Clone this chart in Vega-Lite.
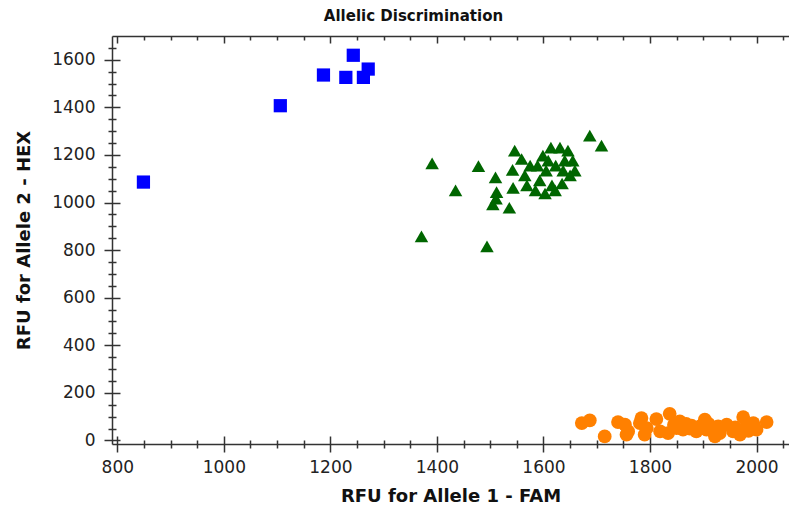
{
  "$schema": "https://vega.github.io/schema/vega-lite/v6.json",
  "autosize": "none",
  "width": 677,
  "height": 408,
  "padding": {"left": 112, "top": 36, "right": 0, "bottom": 67},
  "background": "white",
  "title": {"text": "Allelic Discrimination", "font": "DejaVu Sans", "fontSize": 15, "fontWeight": "bold", "color": "#111", "dx": -37, "offset": 11},
  "config": {
    "view": {"stroke": null},
    "axis": {"grid": false, "domainColor": "#333", "domainWidth": 1.5, "tickColor": "#333", "tickWidth": 1.5, "labelFont": "DejaVu Sans", "labelFontSize": 17, "labelColor": "#222", "titleFont": "DejaVu Sans", "titleFontSize": 18, "titleFontWeight": "bold", "titleColor": "#111", "format": "d"}
  },
  "data": {"values": [
    {"fam": 849, "hex": 1086, "call": "Allele 2"},
    {"fam": 1106, "hex": 1407, "call": "Allele 2"},
    {"fam": 1187, "hex": 1536, "call": "Allele 2"},
    {"fam": 1229, "hex": 1526, "call": "Allele 2"},
    {"fam": 1243, "hex": 1619, "call": "Allele 2"},
    {"fam": 1262, "hex": 1526, "call": "Allele 2"},
    {"fam": 1271, "hex": 1561, "call": "Allele 2"},
    {"fam": 1687, "hex": 1281, "call": "Heterozygote"},
    {"fam": 1709, "hex": 1239, "call": "Heterozygote"},
    {"fam": 1391, "hex": 1165, "call": "Heterozygote"},
    {"fam": 1478, "hex": 1153, "call": "Heterozygote"},
    {"fam": 1546, "hex": 1218, "call": "Heterozygote"},
    {"fam": 1559, "hex": 1183, "call": "Heterozygote"},
    {"fam": 1510, "hex": 1106, "call": "Heterozygote"},
    {"fam": 1542, "hex": 1137, "call": "Heterozygote"},
    {"fam": 1435, "hex": 1051, "call": "Heterozygote"},
    {"fam": 1543, "hex": 1062, "call": "Heterozygote"},
    {"fam": 1512, "hex": 1044, "call": "Heterozygote"},
    {"fam": 1511, "hex": 1016, "call": "Heterozygote"},
    {"fam": 1505, "hex": 992, "call": "Heterozygote"},
    {"fam": 1536, "hex": 978, "call": "Heterozygote"},
    {"fam": 1371, "hex": 858, "call": "Heterozygote"},
    {"fam": 1494, "hex": 816, "call": "Heterozygote"},
    {"fam": 1599, "hex": 1197, "call": "Heterozygote"},
    {"fam": 1614, "hex": 1231, "call": "Heterozygote"},
    {"fam": 1631, "hex": 1231, "call": "Heterozygote"},
    {"fam": 1646, "hex": 1218, "call": "Heterozygote"},
    {"fam": 1655, "hex": 1176, "call": "Heterozygote"},
    {"fam": 1605, "hex": 1134, "call": "Heterozygote"},
    {"fam": 1623, "hex": 1155, "call": "Heterozygote"},
    {"fam": 1637, "hex": 1134, "call": "Heterozygote"},
    {"fam": 1593, "hex": 1093, "call": "Heterozygote"},
    {"fam": 1616, "hex": 1072, "call": "Heterozygote"},
    {"fam": 1635, "hex": 1080, "call": "Heterozygote"},
    {"fam": 1650, "hex": 1114, "call": "Heterozygote"},
    {"fam": 1659, "hex": 1134, "call": "Heterozygote"},
    {"fam": 1585, "hex": 1051, "call": "Heterozygote"},
    {"fam": 1603, "hex": 1038, "call": "Heterozygote"},
    {"fam": 1622, "hex": 1051, "call": "Heterozygote"},
    {"fam": 1575, "hex": 1155, "call": "Heterozygote"},
    {"fam": 1565, "hex": 1114, "call": "Heterozygote"},
    {"fam": 1569, "hex": 1072, "call": "Heterozygote"},
    {"fam": 1609, "hex": 1176, "call": "Heterozygote"},
    {"fam": 1640, "hex": 1176, "call": "Heterozygote"},
    {"fam": 1589, "hex": 1155, "call": "Heterozygote"},
    {"fam": 1672, "hex": 73, "call": "Allele 1"},
    {"fam": 1687, "hex": 84, "call": "Allele 1"},
    {"fam": 1715, "hex": 17, "call": "Allele 1"},
    {"fam": 1740, "hex": 77, "call": "Allele 1"},
    {"fam": 1753, "hex": 66, "call": "Allele 1"},
    {"fam": 1756, "hex": 24, "call": "Allele 1"},
    {"fam": 1784, "hex": 94, "call": "Allele 1"},
    {"fam": 1781, "hex": 73, "call": "Allele 1"},
    {"fam": 1790, "hex": 24, "call": "Allele 1"},
    {"fam": 1812, "hex": 90, "call": "Allele 1"},
    {"fam": 1837, "hex": 112, "call": "Allele 1"},
    {"fam": 1834, "hex": 31, "call": "Allele 1"},
    {"fam": 1856, "hex": 80, "call": "Allele 1"},
    {"fam": 1862, "hex": 45, "call": "Allele 1"},
    {"fam": 1878, "hex": 62, "call": "Allele 1"},
    {"fam": 1887, "hex": 38, "call": "Allele 1"},
    {"fam": 1903, "hex": 87, "call": "Allele 1"},
    {"fam": 1906, "hex": 45, "call": "Allele 1"},
    {"fam": 1922, "hex": 17, "call": "Allele 1"},
    {"fam": 1928, "hex": 59, "call": "Allele 1"},
    {"fam": 1944, "hex": 66, "call": "Allele 1"},
    {"fam": 1956, "hex": 38, "call": "Allele 1"},
    {"fam": 1969, "hex": 24, "call": "Allele 1"},
    {"fam": 1975, "hex": 98, "call": "Allele 1"},
    {"fam": 1981, "hex": 59, "call": "Allele 1"},
    {"fam": 1994, "hex": 73, "call": "Allele 1"},
    {"fam": 2000, "hex": 45, "call": "Allele 1"},
    {"fam": 2019, "hex": 77, "call": "Allele 1"},
    {"fam": 1850, "hex": 52, "call": "Allele 1"},
    {"fam": 1819, "hex": 38, "call": "Allele 1"},
    {"fam": 1794, "hex": 52, "call": "Allele 1"},
    {"fam": 1759, "hex": 38, "call": "Allele 1"},
    {"fam": 1931, "hex": 31, "call": "Allele 1"},
    {"fam": 1894, "hex": 59, "call": "Allele 1"},
    {"fam": 1868, "hex": 70, "call": "Allele 1"},
    {"fam": 1910, "hex": 70, "call": "Allele 1"},
    {"fam": 1960, "hex": 55, "call": "Allele 1"},
    {"fam": 1985, "hex": 40, "call": "Allele 1"},
    {"fam": 1845, "hex": 65, "call": "Allele 1"},
    {"fam": 1875, "hex": 50, "call": "Allele 1"}
  ]},
  "layer": [
    {
      "mark": {"type": "point", "filled": true, "opacity": 1},
      "encoding": {
        "x": {"field": "fam", "type": "quantitative", "scale": {"domain": [790, 2061], "nice": false, "zero": false},
              "axis": {"orient": "bottom", "title": "RFU for Allele 1 - FAM", "values": [800, 1000, 1200, 1400, 1600, 1800, 2000], "tickSize": 8, "labelPadding": 7, "titlePadding": 12}},
        "y": {"field": "hex", "type": "quantitative", "scale": {"domain": [-15, 1700], "nice": false, "zero": false},
              "axis": {"orient": "left", "title": "RFU for Allele 2 - HEX", "values": [0, 200, 400, 600, 800, 1000, 1200, 1400, 1600], "tickSize": 8, "labelPadding": 9, "titlePadding": 18}},
        "shape": {"field": "call", "type": "nominal", "scale": {"domain": ["Allele 2", "Heterozygote", "Allele 1"], "range": ["square", "triangle-up", "circle"]}, "legend": null},
        "color": {"field": "call", "type": "nominal", "scale": {"domain": ["Allele 2", "Heterozygote", "Allele 1"], "range": ["#0000FF", "#006600", "#FF8000"]}, "legend": null},
        "size": {"field": "call", "type": "nominal", "scale": {"domain": ["Allele 2", "Heterozygote", "Allele 1"], "range": [175, 190, 180]}, "legend": null}
      }
    },
    {
      "mark": {"type": "point", "opacity": 0},
      "encoding": {
        "x": {"field": "fam", "type": "quantitative", "axis": {"orient": "bottom", "title": null, "labels": false, "domain": false, "values": [800, 1000, 1200, 1400, 1600, 1800, 2000], "tickSize": -8}},
        "y": {"field": "hex", "type": "quantitative", "axis": {"orient": "left", "title": null, "labels": false, "domain": false, "values": [0, 200, 400, 600, 800, 1000, 1200, 1400, 1600], "tickSize": -8}}
      }
    },
    {
      "mark": {"type": "point", "opacity": 0},
      "encoding": {
        "x": {"field": "fam", "type": "quantitative", "axis": {"orient": "bottom", "title": null, "labels": false, "domain": false, "values": [850, 900, 950, 1050, 1100, 1150, 1250, 1300, 1350, 1450, 1500, 1550, 1650, 1700, 1750, 1850, 1900, 1950, 2050], "tickSize": 4}},
        "y": {"field": "hex", "type": "quantitative", "axis": {"orient": "left", "title": null, "labels": false, "domain": false, "values": [50, 100, 150, 250, 300, 350, 450, 500, 550, 650, 700, 750, 850, 900, 950, 1050, 1100, 1150, 1250, 1300, 1350, 1450, 1500, 1550, 1650], "tickSize": 4}}
      }
    },
    {
      "mark": {"type": "point", "opacity": 0},
      "encoding": {
        "x": {"field": "fam", "type": "quantitative", "axis": {"orient": "bottom", "title": null, "labels": false, "domain": false, "values": [850, 900, 950, 1050, 1100, 1150, 1250, 1300, 1350, 1450, 1500, 1550, 1650, 1700, 1750, 1850, 1900, 1950, 2050], "tickSize": -4}},
        "y": {"field": "hex", "type": "quantitative", "axis": {"orient": "left", "title": null, "labels": false, "domain": false, "values": [50, 100, 150, 250, 300, 350, 450, 500, 550, 650, 700, 750, 850, 900, 950, 1050, 1100, 1150, 1250, 1300, 1350, 1450, 1500, 1550, 1650], "tickSize": -4}}
      }
    },
    {
      "mark": {"type": "point", "opacity": 0},
      "encoding": {
        "x": {"field": "fam", "type": "quantitative", "axis": {"orient": "top", "title": null, "labels": false, "domain": true, "values": [850, 900, 950, 1050, 1100, 1150, 1250, 1300, 1350, 1450, 1500, 1550, 1650, 1700, 1750, 1850, 1900, 1950, 2050], "tickSize": -4}}
      }
    },
    {
      "mark": {"type": "point", "opacity": 0},
      "encoding": {
        "x": {"field": "fam", "type": "quantitative", "axis": {"orient": "top", "title": null, "labels": false, "domain": false, "values": [800, 1000, 1200, 1400, 1600, 1800, 2000], "tickSize": -7}}
      }
    }
  ],
  "resolve": {"axis": {"x": "independent", "y": "independent"}}
}
